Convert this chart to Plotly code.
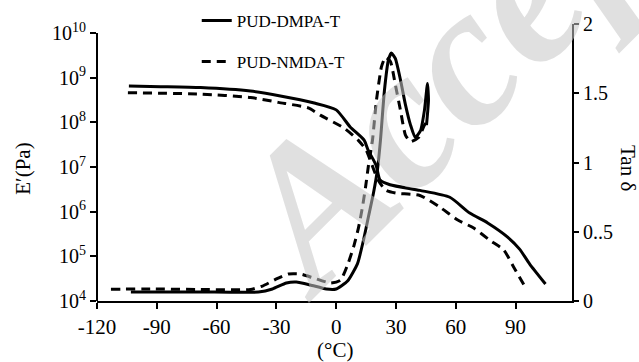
import plotly.graph_objects as go

# ---------------- data ----------------
# Storage modulus E' (Pa)
T_e_dmpa = [-104, -88, -68, -43, -28, -11, 0, 7, 14, 16, 20, 22, 27, 42, 57, 67, 76, 86, 92, 97, 105]
E_dmpa = [6.5e8, 6.3e8, 6.0e8, 5.0e8, 3.9e8, 2.7e8, 1.9e8, 7.9e7, 4.0e7, 2.4e7, 1.1e7, 5.1e6,
          4.0e6, 3.0e6, 2.1e6, 9.3e5, 5.6e5, 2.7e5, 1.45e5, 6.8e4, 2.4e4]

T_e_nmda = [-104.5, -68, -43, -29, -14, -8, 4, 11, 15, 18, 21, 25, 30, 42, 52, 61, 69, 77, 84, 89, 95]
E_nmda = [4.6e8, 4.3e8, 3.6e8, 2.8e8, 2.1e8, 1.45e8, 7.4e7, 4.0e7, 2.4e7, 1.1e7, 5.1e6, 3.0e6,
          2.6e6, 2.3e6, 1.26e6, 6.5e5, 4.3e5, 2.3e5, 1.4e5, 5.8e4, 2.0e4]

# Tan delta
T_t_dmpa = [-103, -68, -39, -32, -25, -20, -13, -5, 0, 5.7, 10.7, 13.7, 16.2, 18.7, 20.7, 22.2,
            24.2, 26.2, 27.7, 29.7, 32.2, 34.7, 37.3, 39.7, 42.3, 44.3, 45.8, 46.3, 45.3]
tan_dmpa = [0.065, 0.065, 0.065, 0.087, 0.13, 0.137, 0.116, 0.087, 0.087, 0.144, 0.27, 0.44, 0.61,
            0.78, 0.95, 1.16, 1.52, 1.74, 1.79, 1.75, 1.60, 1.42, 1.27, 1.18, 1.23, 1.38, 1.57, 1.45, 1.27]

T_t_nmda = [-113, -93, -68, -43, -37, -30, -24, -18, -11.3, -2.8, 2.2, 5.7, 8.7, 11.2, 13.2, 14.7,
            16.2, 18.2, 20.2, 22.7, 24.7, 27.2, 29.7, 32.2, 34.7, 37.3, 41.3, 44.3, 46.3]
tan_nmda = [0.085, 0.087, 0.083, 0.083, 0.108, 0.159, 0.195, 0.195, 0.166, 0.13, 0.15, 0.26, 0.39,
            0.53, 0.68, 0.82, 0.98, 1.16, 1.45, 1.69, 1.76, 1.73, 1.56, 1.38, 1.20, 1.15, 1.18, 1.27, 1.31]

x_ticks = [-120, -90, -60, -30, 0, 30, 60, 90]
x_ticktext = ["-120", "-90", "-60", "-30", "0", "30", "60", "90"]
y_ticks = [1e4, 1e5, 1e6, 1e7, 1e8, 1e9, 1e10]
y_ticktext = ["10<sup>4</sup>", "10<sup>5</sup>", "10<sup>6</sup>", "10<sup>7</sup>",
              "10<sup>8</sup>", "10<sup>9</sup>", "10<sup>10</sup>"]
y2_ticks = [0, 0.5, 1, 1.5, 2]
y2_ticktext = ["0", "0..5", "1", "1.5", "2"]

names = ["PUD-DMPA-T", "PUD-NMDA-T"]

# ---------------- figure ----------------
FONT = "Liberation Serif"
DASH = "9px,6px"
LW = 3

fig = go.Figure()
fig.add_trace(go.Scatter(x=T_e_dmpa, y=E_dmpa, mode="lines", name=names[0],
                         line=dict(color="black", width=LW, shape="spline", smoothing=0.6),
                         legend="legend"))
fig.add_trace(go.Scatter(x=T_e_nmda, y=E_nmda, mode="lines", name=names[1],
                         line=dict(color="black", width=LW, dash=DASH, shape="spline", smoothing=0.6),
                         legend="legend2"))
fig.add_trace(go.Scatter(x=T_t_dmpa, y=tan_dmpa, mode="lines", name=names[0], yaxis="y2",
                         line=dict(color="black", width=LW, shape="spline", smoothing=0.5),
                         showlegend=False))
fig.add_trace(go.Scatter(x=T_t_nmda, y=tan_nmda, mode="lines", name=names[1], yaxis="y2",
                         line=dict(color="black", width=LW, dash=DASH, shape="spline", smoothing=0.5),
                         showlegend=False))

axis_common = dict(showgrid=False, zeroline=False, ticks="outside", tickcolor="black",
                   tickwidth=1.5, linecolor="black")

fig.update_layout(
    width=639, height=362,
    margin=dict(l=97, r=67, t=24, b=61, autoexpand=False),
    paper_bgcolor="white", plot_bgcolor="white",
    font=dict(family=FONT, color="black"),
    xaxis=dict(range=[-120, 118.3], tickvals=x_ticks, ticktext=x_ticktext, ticklen=6,
               showline=True, linewidth=2, tickfont=dict(size=21, family=FONT), **axis_common),
    yaxis=dict(type="log", range=[4, 10.2015], tickvals=y_ticks, ticktext=y_ticktext, ticklen=6,
               showline=False, tickfont=dict(size=20, family=FONT), **axis_common),
    yaxis2=dict(overlaying="y", side="right", range=[0, 2], tickvals=y2_ticks, ticktext=y2_ticktext,
                ticklen=5, showline=True, linewidth=2, tickfont=dict(size=20, family=FONT),
                **axis_common),
    legend=dict(x=0.21, y=1.011, xanchor="left", yanchor="middle", bgcolor="rgba(0,0,0,0)",
                font=dict(size=17, family=FONT), itemwidth=30),
    legend2=dict(x=0.21, y=0.863, xanchor="left", yanchor="middle", bgcolor="rgba(0,0,0,0)",
                 font=dict(size=17, family=FONT), itemwidth=30),
    showlegend=True,
)

# left axis line (stops at 10^10)
fig.add_shape(type="line", xref="paper", yref="paper", x0=0, x1=0, y0=0, y1=6 / 6.2015,
              line=dict(color="black", width=2))

# axis titles
fig.add_annotation(text="E′(Pa)", xref="paper", yref="paper", x=-0.156, y=0.477,
                   xanchor="center", yanchor="middle",
                   textangle=-90, showarrow=False, font=dict(size=21, family=FONT))
fig.add_annotation(text="(°C)", xref="paper", yref="paper", x=0.501, y=-0.177,
                   xanchor="center", yanchor="middle",
                   showarrow=False, font=dict(size=21, family=FONT))
fig.add_annotation(text="Tan δ", xref="paper", yref="paper", x=1.118, y=0.48,
                   xanchor="center", yanchor="middle",
                   textangle=90, showarrow=False, font=dict(size=21, family=FONT))

# watermark
fig.add_annotation(text="<b><i>Accepted</i></b>", xref="paper", yref="paper", x=0.91, y=1.13,
                   xanchor="center", yanchor="middle",
                   textangle=-45, showarrow=False,
                   font=dict(size=200, family=FONT, color="rgba(199,199,199,0.55)"))

fig.write_html("out.html")
